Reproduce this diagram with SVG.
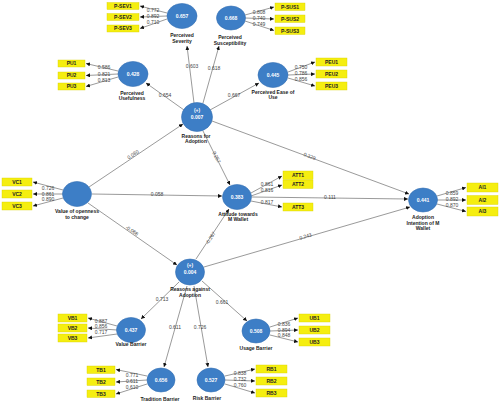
<svg xmlns="http://www.w3.org/2000/svg" width="500" height="403" viewBox="0 0 500 403">
<defs>
<marker id="ah" viewBox="0 0 6 6" refX="6" refY="3" markerWidth="4" markerHeight="4" markerUnits="userSpaceOnUse" orient="auto">
<path d="M0,0 L6,3 L0,6 z" fill="#111"/>
</marker>
<style>
.c{fill:#3d7ec6;stroke:#3570b3;stroke-width:0.6}
.cv{font-family:"Liberation Sans",Arial,sans-serif;font-size:5px;fill:#fff;text-anchor:middle;font-weight:bold}
.lb{font-family:"Liberation Sans",Arial,sans-serif;font-size:5px;fill:#222;text-anchor:middle;font-weight:bold}
.bx{fill:#f5ee10;stroke:#d8d000;stroke-width:0.4}
.bt{font-family:"Liberation Sans",Arial,sans-serif;font-size:5px;fill:#222;text-anchor:middle;font-weight:bold}
.ln{stroke:#555;stroke-width:0.6;fill:none;marker-end:url(#ah)}
.w{font-family:"Liberation Sans",Arial,sans-serif;font-size:5px;fill:#444;text-anchor:middle}
</style>
</defs>
<rect width="500" height="403" fill="#fff"/>

<g id="connectors">
<!-- structural -->
<line class="ln" x1="194" y1="103" x2="187" y2="46"/>
<line class="ln" x1="203" y1="103" x2="219" y2="46"/>
<line class="ln" x1="184" y1="110" x2="146" y2="83"/>
<line class="ln" x1="210" y1="110" x2="259" y2="83"/>
<line class="ln" x1="89" y1="187" x2="183" y2="124"/>
<line class="ln" x1="92" y1="194" x2="222" y2="196"/>
<line class="ln" x1="88" y1="203" x2="177" y2="265"/>
<line class="ln" x1="203" y1="131" x2="230" y2="185"/>
<line class="ln" x1="212" y1="121" x2="409" y2="194"/>
<line class="ln" x1="252" y1="197" x2="408" y2="199"/>
<line class="ln" x1="196" y1="259" x2="229" y2="209"/>
<line class="ln" x1="204" y1="267" x2="410" y2="207"/>
<line class="ln" x1="179" y1="282" x2="141" y2="319"/>
<line class="ln" x1="187" y1="286" x2="164" y2="367"/>
<line class="ln" x1="194" y1="286" x2="208" y2="367"/>
<line class="ln" x1="202" y1="281" x2="247" y2="321"/>
<text class="w" x="192" y="68">0.603</text>
<text class="w" x="214" y="70">0.618</text>
<text class="w" x="165" y="97">0.654</text>
<text class="w" x="234" y="97">0.667</text>
<text class="w" transform="translate(134,156) rotate(-34)">0.080</text>
<text class="w" x="157" y="196">0.058</text>
<text class="w" transform="translate(131,232) rotate(35)">-0.066</text>
<text class="w" transform="translate(215,158) rotate(63)">0.257</text>
<text class="w" transform="translate(309,158) rotate(20)">0.329</text>
<text class="w" x="330" y="199">0.111</text>
<text class="w" transform="translate(212,239) rotate(-57)">-0.267</text>
<text class="w" transform="translate(306,238) rotate(-16)">0.243</text>
<text class="w" x="162" y="301">0.713</text>
<text class="w" x="175" y="329">0.611</text>
<text class="w" x="200" y="329">0.726</text>
<text class="w" x="222" y="304">0.661</text>
<!-- loadings -->
<line class="ln" x1="167" y1="13" x2="140" y2="6"/>
<line class="ln" x1="167" y1="16" x2="140" y2="17"/>
<line class="ln" x1="167" y1="19" x2="140" y2="28.5"/>
<text class="w" x="153" y="12">0.772</text>
<text class="w" x="153" y="18">0.892</text>
<text class="w" x="153" y="24">0.710</text>
<line class="ln" x1="245" y1="15" x2="274" y2="7"/>
<line class="ln" x1="245" y1="18" x2="274" y2="19"/>
<line class="ln" x1="245" y1="21" x2="274" y2="30.5"/>
<text class="w" x="259" y="14">0.808</text>
<text class="w" x="259" y="20">0.740</text>
<text class="w" x="259" y="26">0.749</text>
<line class="ln" x1="118" y1="71" x2="86" y2="63.5"/>
<line class="ln" x1="118" y1="74" x2="86" y2="75.5"/>
<line class="ln" x1="118" y1="77" x2="86" y2="86.5"/>
<text class="w" x="104" y="69">0.586</text>
<text class="w" x="104" y="75.5">0.821</text>
<text class="w" x="104" y="81.5">0.813</text>
<line class="ln" x1="288" y1="72" x2="315" y2="62"/>
<line class="ln" x1="288" y1="75" x2="315" y2="74"/>
<line class="ln" x1="288" y1="78" x2="315" y2="86"/>
<text class="w" x="301" y="68.5">0.750</text>
<text class="w" x="301" y="75">0.786</text>
<text class="w" x="301" y="81">0.856</text>
<line class="ln" x1="63" y1="190" x2="33" y2="182"/>
<line class="ln" x1="63" y1="194" x2="33" y2="194"/>
<line class="ln" x1="63" y1="198" x2="33" y2="206"/>
<text class="w" x="48" y="189.5">0.726</text>
<text class="w" x="48" y="195.5">0.861</text>
<text class="w" x="48" y="201">0.890</text>
<line class="ln" x1="251" y1="193" x2="282" y2="176"/>
<line class="ln" x1="251" y1="196" x2="282" y2="185"/>
<line class="ln" x1="251" y1="201" x2="282" y2="207"/>
<text class="w" x="267" y="186">0.861</text>
<text class="w" x="267" y="192">0.816</text>
<text class="w" x="267" y="204">0.817</text>
<line class="ln" x1="437" y1="196" x2="466" y2="187.5"/>
<line class="ln" x1="437" y1="200" x2="466" y2="200"/>
<line class="ln" x1="437" y1="204" x2="466" y2="211.5"/>
<text class="w" x="452" y="194.5">0.859</text>
<text class="w" x="452" y="200.5">0.892</text>
<text class="w" x="452" y="206.5">0.870</text>
<line class="ln" x1="117" y1="326" x2="88" y2="318"/>
<line class="ln" x1="117" y1="330" x2="88" y2="328"/>
<line class="ln" x1="117" y1="334" x2="88" y2="338"/>
<text class="w" x="101" y="322.5">0.887</text>
<text class="w" x="101" y="328">0.856</text>
<text class="w" x="101" y="334">0.717</text>
<line class="ln" x1="270" y1="327" x2="298" y2="318"/>
<line class="ln" x1="270" y1="331" x2="298" y2="330"/>
<line class="ln" x1="270" y1="335" x2="298" y2="342"/>
<text class="w" x="284" y="325.5">0.836</text>
<text class="w" x="284" y="331.5">0.894</text>
<text class="w" x="284" y="337">0.848</text>
<line class="ln" x1="147" y1="376" x2="116" y2="369.5"/>
<line class="ln" x1="147" y1="380" x2="116" y2="382"/>
<line class="ln" x1="147" y1="384" x2="116" y2="394"/>
<text class="w" x="132" y="376.5">0.771</text>
<text class="w" x="132" y="382.5">0.611</text>
<text class="w" x="132" y="388.5">0.610</text>
<line class="ln" x1="225" y1="376" x2="255" y2="369"/>
<line class="ln" x1="225" y1="380" x2="255" y2="381"/>
<line class="ln" x1="225" y1="384" x2="255" y2="393"/>
<text class="w" x="240" y="374.5">0.838</text>
<text class="w" x="240" y="380.5">0.732</text>
<text class="w" x="240" y="386.5">0.760</text>
</g>

<g id="n-ps">
<ellipse class="c" cx="182" cy="16" rx="15" ry="12.5"/>
<text class="cv" x="182" y="18">0.657</text>
<text class="lb" x="182" y="37">Perceived</text>
<text class="lb" x="182" y="43">Severity</text>
</g>
<g id="n-psus">
<ellipse class="c" cx="231" cy="18" rx="14.5" ry="12"/>
<text class="cv" x="231" y="20">0.668</text>
<text class="lb" x="230" y="39">Perceived</text>
<text class="lb" x="230" y="45">Susceptibility</text>
</g>
<g id="n-pu">
<ellipse class="c" cx="133" cy="74" rx="15" ry="12.5"/>
<text class="cv" x="133" y="76">0.428</text>
<text class="lb" x="132" y="94.5">Perceived</text>
<text class="lb" x="132" y="100">Usefulness</text>
</g>
<g id="n-peu">
<ellipse class="c" cx="273" cy="75" rx="15" ry="12.5"/>
<text class="cv" x="273" y="77">0.445</text>
<text class="lb" x="273" y="93.5">Perceived Ease of</text>
<text class="lb" x="273" y="99">Use</text>
</g>
<g id="n-rfa">
<ellipse class="c" cx="197" cy="117" rx="15.5" ry="14.5"/>
<text class="cv" x="197" y="112">(+)</text>
<text class="cv" x="197" y="119">0.007</text>
<text class="lb" x="196" y="137.5">Reasons for</text>
<text class="lb" x="196" y="143">Adoption</text>
</g>
<g id="n-vc">
<ellipse class="c" cx="77" cy="194" rx="14.5" ry="12.5"/>
<text class="lb" x="77" y="212.5">Value of openness</text>
<text class="lb" x="77" y="218.5">to change</text>
</g>
<g id="n-att">
<ellipse class="c" cx="237" cy="197" rx="14.5" ry="12.5"/>
<text class="cv" x="237" y="199">0.383</text>
<text class="lb" x="238" y="215.5">Attitude towards</text>
<text class="lb" x="238" y="221">M Wallet</text>
</g>
<g id="n-ai">
<ellipse class="c" cx="423" cy="200" rx="14.5" ry="12"/>
<text class="cv" x="423" y="202">0.441</text>
<text class="lb" x="423" y="219">Adoption</text>
<text class="lb" x="423" y="224.5">Intention of M</text>
<text class="lb" x="423" y="230">Wallet</text>
</g>
<g id="n-raa">
<ellipse class="c" cx="190" cy="272" rx="14.5" ry="13"/>
<text class="cv" x="190" y="267">(+)</text>
<text class="cv" x="190" y="274">0.004</text>
<text class="lb" x="190" y="291">Reasons against</text>
<text class="lb" x="190" y="296.5">Adoption</text>
</g>
<g id="n-vb">
<ellipse class="c" cx="131" cy="330" rx="14.5" ry="12.5"/>
<text class="cv" x="131" y="332">0.437</text>
<text class="lb" x="131" y="345.5">Value Barrier</text>
</g>
<g id="n-ub">
<ellipse class="c" cx="256" cy="331" rx="14" ry="12"/>
<text class="cv" x="256" y="333">0.508</text>
<text class="lb" x="256" y="349.5">Usage Barrier</text>
</g>
<g id="n-tb">
<ellipse class="c" cx="161" cy="380" rx="14" ry="12"/>
<text class="cv" x="161" y="382">0.656</text>
<text class="lb" x="160" y="401">Tradition Barrier</text>
</g>
<g id="n-rb">
<ellipse class="c" cx="211" cy="380" rx="14" ry="12"/>
<text class="cv" x="211" y="382">0.527</text>
<text class="lb" x="207" y="400">Risk Barrier</text>
</g>

<g id="ind-psev">
<rect class="bx" x="107" y="2.5" width="32" height="7"/><text class="bt" x="123" y="7.8">P-SEV1</text>
<rect class="bx" x="107" y="13.5" width="32" height="7"/><text class="bt" x="123" y="18.8">P-SEV2</text>
<rect class="bx" x="107" y="25" width="32" height="7"/><text class="bt" x="123" y="30.3">P-SEV3</text>
</g>
<g id="ind-psus">
<rect class="bx" x="275" y="3" width="30" height="7.5"/><text class="bt" x="290" y="8.5">P-SUS1</text>
<rect class="bx" x="275" y="15" width="30" height="7.5"/><text class="bt" x="290" y="20.5">P-SUS2</text>
<rect class="bx" x="275" y="27" width="30" height="7.5"/><text class="bt" x="290" y="32.5">P-SUS3</text>
</g>
<g id="ind-pu">
<rect class="bx" x="58" y="60" width="27" height="7"/><text class="bt" x="71.5" y="65.3">PU1</text>
<rect class="bx" x="58" y="72" width="27" height="7"/><text class="bt" x="71.5" y="77.3">PU2</text>
<rect class="bx" x="58" y="83" width="27" height="7"/><text class="bt" x="71.5" y="88.3">PU3</text>
</g>
<g id="ind-peu">
<rect class="bx" x="316" y="58" width="31" height="8"/><text class="bt" x="331.5" y="63.8">PEU1</text>
<rect class="bx" x="316" y="70" width="31" height="8"/><text class="bt" x="331.5" y="75.8">PEU2</text>
<rect class="bx" x="316" y="82" width="31" height="8"/><text class="bt" x="331.5" y="87.8">PEU3</text>
</g>
<g id="ind-vc">
<rect class="bx" x="2" y="178" width="30" height="8"/><text class="bt" x="17" y="183.8">VC1</text>
<rect class="bx" x="2" y="190" width="30" height="8"/><text class="bt" x="17" y="195.8">VC2</text>
<rect class="bx" x="2" y="202" width="30" height="8"/><text class="bt" x="17" y="207.8">VC3</text>
</g>
<g id="ind-att">
<rect class="bx" x="283" y="171" width="30" height="8.5"/><text class="bt" x="298" y="177">ATT1</text>
<rect class="bx" x="283" y="180" width="30" height="8.5"/><text class="bt" x="298" y="186">ATT2</text>
<rect class="bx" x="283" y="203" width="30" height="8"/><text class="bt" x="298" y="208.8">ATT3</text>
</g>
<g id="ind-ai">
<rect class="bx" x="467" y="183" width="31" height="9"/><text class="bt" x="482.5" y="189.3">AI1</text>
<rect class="bx" x="467" y="195.5" width="31" height="9"/><text class="bt" x="482.5" y="201.8">AI2</text>
<rect class="bx" x="467" y="207" width="31" height="9"/><text class="bt" x="482.5" y="213.3">AI3</text>
</g>
<g id="ind-vb">
<rect class="bx" x="58" y="314" width="29" height="8"/><text class="bt" x="72.5" y="319.8">VB1</text>
<rect class="bx" x="58" y="324" width="29" height="8"/><text class="bt" x="72.5" y="329.8">VB2</text>
<rect class="bx" x="58" y="334" width="29" height="8"/><text class="bt" x="72.5" y="339.8">VB3</text>
</g>
<g id="ind-ub">
<rect class="bx" x="299" y="314" width="31" height="8"/><text class="bt" x="314.5" y="319.8">UB1</text>
<rect class="bx" x="299" y="326" width="31" height="8"/><text class="bt" x="314.5" y="331.8">UB2</text>
<rect class="bx" x="299" y="338" width="31" height="8"/><text class="bt" x="314.5" y="343.8">UB3</text>
</g>
<g id="ind-tb">
<rect class="bx" x="87" y="366" width="28" height="7.5"/><text class="bt" x="101" y="371.5">TB1</text>
<rect class="bx" x="87" y="378" width="28" height="7.5"/><text class="bt" x="101" y="383.5">TB2</text>
<rect class="bx" x="87" y="390" width="28" height="7.5"/><text class="bt" x="101" y="395.5">TB3</text>
</g>
<g id="ind-rb">
<rect class="bx" x="256" y="365" width="31" height="8"/><text class="bt" x="271.5" y="370.8">RB1</text>
<rect class="bx" x="256" y="377" width="31" height="8"/><text class="bt" x="271.5" y="382.8">RB2</text>
<rect class="bx" x="256" y="389" width="31" height="8"/><text class="bt" x="271.5" y="394.8">RB3</text>
</g>
</svg>
